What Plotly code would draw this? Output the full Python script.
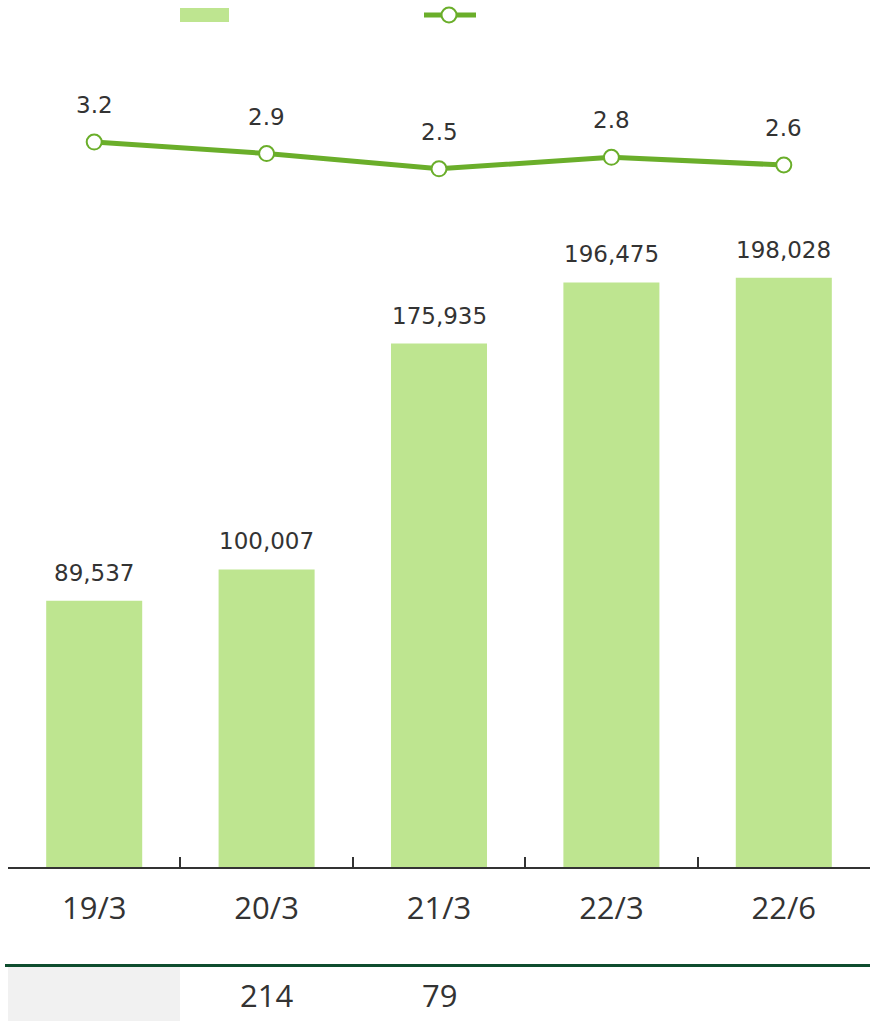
import plotly.graph_objects as go

categories = ["19/3", "20/3", "21/3", "22/3", "22/6"]
bar_values = [89537, 100007, 175935, 196475, 198028]
line_values = [3.2, 2.9, 2.5, 2.8, 2.6]
table_values = ["", "214", "79", "", ""]

BAR_COLOR = "#BEE590"
LINE_COLOR = "#6AAE2A"
TEXT_COLOR = "#333333"
FONT = "Open Sans, DejaVu Sans, sans-serif"
LABEL_FONT = "DejaVu Sans, Open Sans, sans-serif"

fig = go.Figure()
fig.add_trace(go.Bar(x=categories, y=bar_values, marker_color=BAR_COLOR,
                     marker_line_width=0, showlegend=False, hoverinfo="skip"))
fig.add_trace(go.Scatter(x=categories, y=line_values, yaxis="y2", mode="lines+markers",
                         line=dict(color=LINE_COLOR, width=5),
                         marker=dict(symbol="circle", size=15, color="white",
                                     line=dict(color=LINE_COLOR, width=2)),
                         showlegend=False, hoverinfo="skip"))

H = 1021
PB = 154


def py(pix):
    return (H - PB - pix) / (H - PB)


def px(pix):
    return (pix - 8) / 862


annotations = []
for c, v in zip(categories, bar_values):
    annotations.append(dict(x=c, y=v, xref="x", yref="y", text=f"{v:,}",
                            showarrow=False, yanchor="bottom", yshift=13,
                            font=dict(family=LABEL_FONT, size=23, color=TEXT_COLOR)))
for c, v in zip(categories, line_values):
    annotations.append(dict(x=c, y=v, xref="x", yref="y2", text=f"{v:.1f}",
                            showarrow=False, yanchor="bottom", yshift=22,
                            font=dict(family=LABEL_FONT, size=23, color=TEXT_COLOR)))
for c, t in zip(categories, table_values):
    if t:
        annotations.append(dict(x=c, y=py(995), xref="x", yref="paper", text=t,
                                showarrow=False, yanchor="middle",
                                font=dict(family=FONT, size=31, color=TEXT_COLOR)))

shapes = [
    dict(type="rect", xref="paper", yref="paper", x0=px(180), x1=px(229), y0=py(22), y1=py(8),
         fillcolor=BAR_COLOR, line_width=0),
    dict(type="line", xref="paper", yref="paper", x0=px(424), x1=px(476), y0=py(15), y1=py(15),
         line=dict(color=LINE_COLOR, width=5)),
    dict(type="circle", xref="paper", yref="paper", x0=px(441.5), x1=px(456.5), y0=py(22.5), y1=py(7.5),
         fillcolor="white", line=dict(color=LINE_COLOR, width=2)),
    dict(type="rect", xref="paper", yref="paper", x0=px(8), x1=px(180), y0=py(1021), y1=py(967),
         fillcolor="#F1F1F1", line_width=0, layer="below"),
    dict(type="line", xref="paper", yref="paper", x0=px(5), x1=px(870), y0=py(965.5), y1=py(965.5),
         line=dict(color="#0E4D2E", width=3)),
]

fig.update_layout(
    width=870, height=H,
    margin=dict(l=8, r=0, t=0, b=PB, autoexpand=False),
    paper_bgcolor="white", plot_bgcolor="white",
    bargap=0.443,
    showlegend=False,
    xaxis=dict(type="category", showline=True, linecolor="#333333", linewidth=2,
               ticks="inside", ticklen=10, tickwidth=1.5, tickcolor="#333333",
               tickson="boundaries", showgrid=False, zeroline=False,
               ticklabelstandoff=13,
               tickfont=dict(family=FONT, size=31, color=TEXT_COLOR)),
    yaxis=dict(range=[0, 291430], visible=False, showgrid=False, zeroline=False),
    yaxis2=dict(range=[-15.78, 6.92], overlaying="y", visible=False, showgrid=False, zeroline=False),
    annotations=annotations,
    shapes=shapes,
)

fig.write_html("out.html", config={"displayModeBar": False},
               post_script="document.body.style.margin='0';")
